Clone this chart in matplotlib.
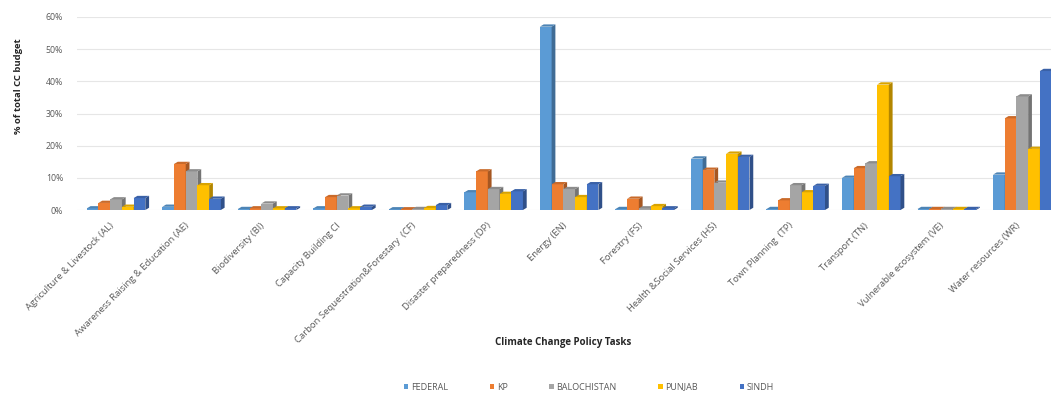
import matplotlib
matplotlib.use("Agg")
import matplotlib.pyplot as plt
import matplotlib.colors as mcolors
from matplotlib.patches import Polygon
from matplotlib.transforms import ScaledTranslation
import numpy as np

plt.rcParams['font.family'] = ['Open Sans', 'DejaVu Sans']

categories = [
    "Agriculture & Livestock (AL)",
    "Awareness Raising & Education (AE)",
    "Biodiversity (BI)",
    "Capacity Building CI",
    "Carbon Sequestration&Forestary  (CF)",
    "Disaster preparedness (DP)",
    "Energy (EN)",
    "Forestry (FS)",
    "Health &Social Services (HS)",
    "Town Planning  (TP)",
    "Transport (TN)",
    "Vulnerable ecosystem (VE)",
    "Water resources (WR)",
]

federal     = [0.5, 1.0, 0.3, 0.5, 0.2, 5.5, 57.0, 0.3, 16.0, 0.3, 10.0, 0.3, 11.0]
kp          = [2.2, 14.3, 0.5, 4.0, 0.2, 12.0, 8.0, 3.5, 12.5, 3.0, 13.0, 0.3, 28.5]
balochistan = [3.3, 12.0, 2.0, 4.5, 0.3, 6.5, 6.5, 0.5, 8.5, 7.7, 14.5, 0.3, 35.3]
punjab      = [1.0, 7.7, 0.5, 0.5, 0.6, 5.0, 4.0, 1.2, 17.5, 5.5, 39.0, 0.3, 19.0]
sindh       = [3.7, 3.5, 0.5, 1.0, 1.5, 5.8, 8.0, 0.5, 16.5, 7.5, 10.5, 0.3, 43.2]

series_names = ["FEDERAL", "KP", "BALOCHISTAN", "PUNJAB", "SINDH"]
series_values = [federal, kp, balochistan, punjab, sindh]
colors = ["#5B9BD5", "#ED7D31", "#A5A5A5", "#FFC000", "#4472C4"]

yticks = [0, 10, 20, 30, 40, 50, 60]
ytick_labels = ["0%", "10%", "20%", "30%", "40%", "50%", "60%"]

W, H = 1051, 394
fig = plt.figure(figsize=(W / 100, H / 100), dpi=100)
ax = fig.add_axes([77 / W, 1 - 210 / H, (W - 77) / W, (210 - 17) / H])

x = np.arange(len(categories))
width = 0.155
depth_x = 0.05    # side-face width of the pseudo-3D columns
depth_y = 0.7     # top-face rise in percentage points


def shade(c, f):
    r, g, b = mcolors.to_rgb(c)
    return (r * f, g * f, b * f)


for i, (name, vals, col) in enumerate(zip(series_names, series_values, colors)):
    pos = x + (i - 2) * width
    bars = ax.bar(pos, vals, width=width, color=col, label=name, zorder=3 + i,
                  edgecolor='none')
    for b in bars:
        x0 = b.get_x()
        x1 = x0 + b.get_width()
        h = b.get_height()
        side = Polygon([(x1, 0), (x1 + depth_x, depth_y), (x1 + depth_x, h + depth_y), (x1, h)],
                       closed=True, facecolor=shade(col, 0.7), edgecolor='none', zorder=3 + i)
        top = Polygon([(x0, h), (x0 + depth_x, h + depth_y), (x1 + depth_x, h + depth_y), (x1, h)],
                      closed=True, facecolor=shade(col, 0.85), edgecolor='none', zorder=3 + i)
        ax.add_patch(side)
        ax.add_patch(top)

ax.set_xlim(-0.517, 12.38)
ax.set_ylim(0, 60)
ax.set_yticks(yticks)
ax.set_yticklabels(ytick_labels, fontsize=6.3, color="#595959")
ax.set_xticks(x)
ax.set_xticklabels(categories, rotation=45, ha='right', rotation_mode='anchor',
                   fontsize=6.8, color="#595959")
ax.tick_params(axis='both', length=0)
ax.tick_params(axis='x', pad=8)
ax.tick_params(axis='y', pad=10)
shift = ScaledTranslation(-0.07, 0, fig.dpi_scale_trans)
for lab in ax.get_xticklabels():
    lab.set_transform(lab.get_transform() + shift)
ax.grid(axis='y', color="#E6E6E6", linewidth=0.8, zorder=0)
for s in ax.spines.values():
    s.set_visible(False)

fig.text(19 / W, 1 - 86 / H, "% of total CC budget", rotation=90, ha='center', va='center',
         fontsize=6.8, fontweight='bold', color="#262626")
fig.text(563 / W, 1 - 342 / H, "Climate Change Policy Tasks", ha='center', va='center',
         fontsize=7.0, fontweight='bold', color="#262626")

handles, labels = ax.get_legend_handles_labels()
fig.legend(handles, labels, loc='center', bbox_to_anchor=(589 / W, 1 - 387 / H),
           ncol=5, frameon=False, fontsize=6.5, handlelength=0.5, handleheight=0.5,
           columnspacing=4.6, handletextpad=0.3, labelcolor="#595959")

fig.savefig("out.png", dpi=100, facecolor='white')
